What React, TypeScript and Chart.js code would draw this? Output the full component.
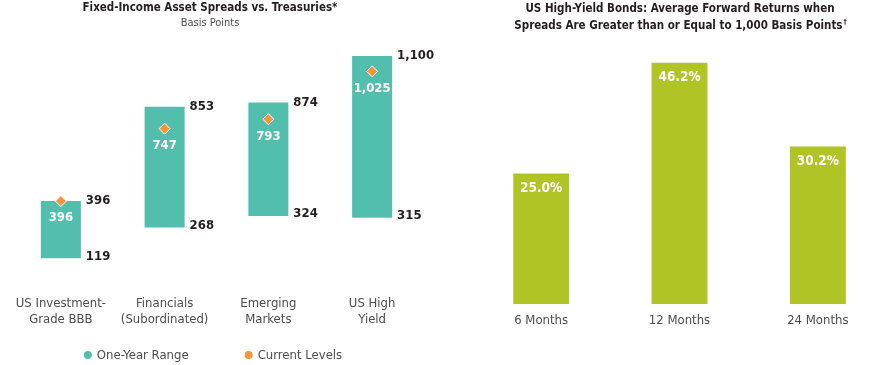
import React, { useEffect, useRef } from "react";
import { Chart, registerables } from "chart.js";
Chart.register(...registerables);

const spreadCategories = [
  ["US Investment-", "Grade BBB"],
  ["Financials", "(Subordinated)"],
  ["Emerging", "Markets"],
  ["US High", "Yield"],
];
const rangeLow = [119, 268, 324, 315];
const rangeHigh = [396, 853, 874, 1100];
const currentLevels = [396, 747, 793, 1025];

const returnCategories = ["6 Months", "12 Months", "24 Months"];
const forwardReturns = [25.0, 46.2, 30.2];

const leftTitle = ["Fixed-Income Asset Spreads vs. Treasuries*"];
const leftSubtitle = "Basis Points";
const rightTitle = [
  "US High-Yield Bonds: Average Forward Returns when",
  "Spreads Are Greater than or Equal to 1,000 Basis Points\u2020",
];

const FONT = "'DejaVu Sans Condensed','DejaVu Sans',sans-serif";
const TEAL = "#52bfae";
const ORANGE = "#f7943a";
const GREEN = "#b0c425";
const DARK = "#231f20";
const GRAY = "#4d4d4d";

const fmt = (v: number) => v.toLocaleString("en-US");

function titlePlugin(lines: string[], centerX: number, firstY: number, lineGap: number, sub?: string, subY?: number) {
  return {
    id: "customTitle",
    afterDraw(chart: any) {
      const ctx = chart.ctx;
      ctx.save();
      ctx.textBaseline = "middle";
      ctx.fillStyle = DARK;
      lines.forEach((l, i) => {
        const y = firstY + i * lineGap;
        ctx.font = `bold 11.5px ${FONT}`;
        if (l.endsWith("\u2020")) {
          const main = l.slice(0, -1);
          const w = ctx.measureText(main).width;
          ctx.font = `bold 7px ${FONT}`;
          const dw = ctx.measureText("\u2020").width;
          const start = centerX - (w + dw) / 2;
          ctx.textAlign = "left";
          ctx.fillText("\u2020", start + w + 1, y - 4);
          ctx.font = `bold 11.5px ${FONT}`;
          ctx.fillText(main, start, y);
        } else {
          ctx.textAlign = "center";
          ctx.fillText(l, centerX, y);
        }
      });
      if (sub) {
        ctx.textAlign = "center";
        ctx.font = `11px ${FONT}`;
        ctx.fillStyle = GRAY;
        ctx.fillText(sub, centerX, subY as number);
      }
      ctx.restore();
    },
  };
}

const spreadLabels = {
  id: "spreadLabels",
  afterDatasetsDraw(chart: any) {
    const ctx = chart.ctx;
    const meta = chart.getDatasetMeta(0);
    const yScale = chart.scales.y;
    ctx.save();
    ctx.font = `bold 13px ${FONT}`;
    ctx.textBaseline = "middle";
    meta.data.forEach((bar: any, i: number) => {
      const { x, y, base, width } = bar.getProps(["x", "y", "base", "width"], true);
      const right = x + width / 2 + 5;
      ctx.fillStyle = DARK;
      ctx.textAlign = "left";
      ctx.fillText(fmt(rangeHigh[i]), right, Math.min(y, base));
      ctx.fillText(fmt(rangeLow[i]), right, Math.max(y, base) - 2);
      const cy = yScale.getPixelForValue(currentLevels[i]);
      ctx.fillStyle = "#ffffff";
      ctx.textAlign = "center";
      ctx.fillText(fmt(currentLevels[i]), x, cy + 17);
    });
    ctx.restore();
  },
};

const customLegend = {
  id: "customLegend",
  afterDraw(chart: any) {
    const ctx = chart.ctx;
    const items = chart.data.datasets.map((ds: any) => ({ text: ds.label, color: ds.legendColor }));
    ctx.save();
    ctx.font = `13px ${FONT}`;
    ctx.textBaseline = "middle";
    ctx.textAlign = "left";
    const gap = 56;
    const r = 4;
    const widths = items.map((it: any) => r * 2 + 5 + ctx.measureText(it.text).width);
    const total = widths.reduce((a: number, b: number) => a + b, 0) + gap * (items.length - 1);
    let x = 213 - total / 2;
    const y = 355;
    items.forEach((it: any, i: number) => {
      ctx.fillStyle = it.color;
      ctx.beginPath();
      ctx.arc(x + r, y, r, 0, Math.PI * 2);
      ctx.fill();
      ctx.fillStyle = GRAY;
      ctx.fillText(it.text, x + r * 2 + 5, y + 1);
      x += widths[i] + gap;
    });
    ctx.restore();
  },
};

const returnLabels = {
  id: "returnLabels",
  afterDatasetsDraw(chart: any) {
    const ctx = chart.ctx;
    const meta = chart.getDatasetMeta(0);
    ctx.save();
    ctx.font = `bold 13.5px ${FONT}`;
    ctx.textBaseline = "middle";
    ctx.textAlign = "center";
    ctx.fillStyle = "#ffffff";
    meta.data.forEach((bar: any, i: number) => {
      const { x, y } = bar.getProps(["x", "y"], true);
      ctx.fillText(forwardReturns[i].toFixed(1) + "%", x, y + 15);
    });
    ctx.restore();
  },
};

export default function App() {
  const leftRef = useRef<HTMLCanvasElement>(null);
  const rightRef = useRef<HTMLCanvasElement>(null);

  useEffect(() => {
    const left = new Chart(leftRef.current!, {
      type: "bar",
      data: {
        labels: spreadCategories as any,
        datasets: [
          {
            type: "bar",
            label: "One-Year Range",
            data: rangeLow.map((lo, i) => [lo, rangeHigh[i]]) as any,
            backgroundColor: TEAL,
            legendColor: TEAL,
            barPercentage: 0.3855,
            categoryPercentage: 1,
            borderSkipped: false,
            order: 2,
          } as any,
          {
            type: "line",
            label: "Current Levels",
            data: currentLevels,
            showLine: false,
            pointStyle: "rectRot",
            pointRadius: 5.5,
            pointBackgroundColor: ORANGE,
            pointBorderColor: "#ffffff",
            pointBorderWidth: 1,
            legendColor: ORANGE,
            order: 1,
          } as any,
        ],
      },
      options: {
        responsive: false,
        animation: false,
        devicePixelRatio: 1,
        layout: { padding: { left: 9, right: 16, top: 35.3, bottom: 24.5 } },
        plugins: { legend: { display: false }, tooltip: { enabled: false }, title: { display: false } },
        scales: {
          x: {
            grid: { display: false, drawTicks: false },
            border: { display: false },
            ticks: { color: GRAY, padding: 12, font: { family: FONT, size: 13, lineHeight: 1.3 }, maxRotation: 0 },
          },
          y: { display: false, min: 0, max: 1200 },
        },
      },
      plugins: [spreadLabels, customLegend, titlePlugin(leftTitle, 210, 8, 15, leftSubtitle, 23)],
    });

    const right = new Chart(rightRef.current!, {
      type: "bar",
      data: {
        labels: returnCategories,
        datasets: [
          {
            label: "Average Forward Return",
            data: forwardReturns,
            backgroundColor: GREEN,
            barPercentage: 0.404,
            categoryPercentage: 1,
          },
        ],
      },
      options: {
        responsive: false,
        animation: false,
        devicePixelRatio: 1,
        layout: { padding: { left: 32, right: 13, top: 43, bottom: 27 } },
        plugins: { legend: { display: false }, tooltip: { enabled: false }, title: { display: false } },
        scales: {
          x: {
            grid: { display: false, drawTicks: false },
            border: { display: false },
            ticks: { color: GRAY, padding: 8.5, font: { family: FONT, size: 13, lineHeight: 1.3 }, maxRotation: 0 },
          },
          y: { display: false, min: 0, max: 50 },
        },
      },
      plugins: [returnLabels, titlePlugin(rightTitle, 240, 9, 17)],
    });

    return () => {
      left.destroy();
      right.destroy();
    };
  }, []);

  return (
    <div style={{ position: "absolute", left: 0, top: 0, width: 880, height: 365, overflow: "hidden", background: "#fff" }}>
      <canvas ref={leftRef} width={440} height={365} style={{ position: "absolute", left: 0, top: 0, width: 440, height: 365 }} />
      <canvas ref={rightRef} width={460} height={365} style={{ position: "absolute", left: 440, top: 0, width: 460, height: 365 }} />
    </div>
  );
}
